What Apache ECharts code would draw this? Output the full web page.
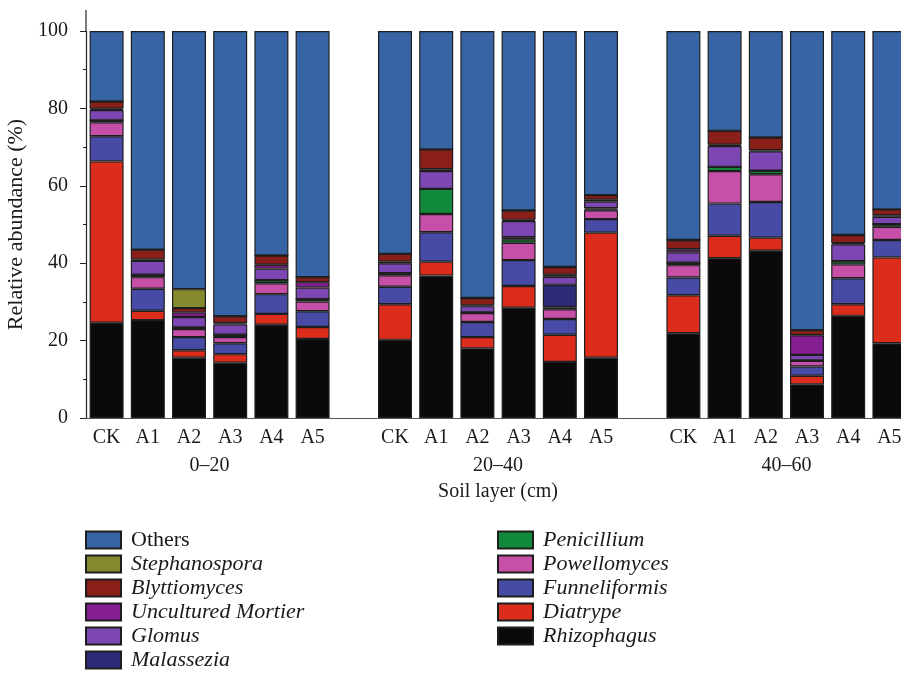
<!DOCTYPE html>
<html>
<head>
<meta charset="utf-8">
<script src="https://cdn.jsdelivr.net/npm/echarts@6/dist/echarts.min.js"></script>
<style>html,body{margin:0;padding:0;background:#fff}#c{width:901px;height:674px}</style>
</head>
<body>
<div id="c"></div>
<script>
// Categories (blank slots separate the soil layers)
var categories = ['CK','A1','A2','A3','A4','A5','', 'CK','A1','A2','A3','A4','A5','', 'CK','A1','A2','A3','A4','A5'];
var groupLabels = ['0\u201320','20\u201340','40\u201360'];
var groupCenters = [3, 10, 17];
var yTicks = [0, 20, 40, 60, 80, 100];

var rhizophagus   = [24.6,25.3,15.6,14.3,24.1,20.4,null, 20.2,36.8,18.0,28.5,14.5,15.6,null, 21.9,41.3,43.2,8.7,26.4,19.3];
var diatrype      = [41.7,2.4,1.9,2.2,2.8,3.1,null, 9.2,3.6,2.9,5.6,7.0,32.3,null, 9.8,5.8,3.4,2.2,3.0,22.2];
var funneliformis = [6.5,5.7,3.4,2.8,5.1,4.1,null, 4.5,7.6,3.9,6.7,4.1,3.5,null, 4.6,8.3,9.2,2.4,6.7,4.5];
var powellomyces  = [3.6,3.0,2.1,1.6,2.8,2.5,null, 3.0,4.7,2.3,4.5,2.5,2.3,null, 3.2,8.4,7.2,1.5,3.6,3.4];
var penicillium   = [0.5,0.6,0.4,0.6,0.8,0.6,null, 0.5,6.5,0.2,0.9,0.5,0.2,null, 0.6,1.1,0.9,0.1,0.8,0.7];
var malassezia    = [0,0,0,0,0,0,null, 0,0,0,0.5,5.8,0.3,null, 0,0,0,0,0,0];
var glomus        = [2.7,3.6,2.7,2.7,3.0,3.0,null, 2.6,4.6,1.6,4.2,2.1,1.7,null, 2.7,5.4,5.0,1.4,4.4,1.9];
var unculturedMortier = [0.3,0.4,1.2,0.3,1.0,1.4,null, 0.4,0.5,0.2,0.3,0.5,0.5,null, 0.8,0.3,0.3,5.1,0.3,0.4];
var blyttiomyces  = [1.9,2.5,1.1,1.8,2.4,1.3,null, 2.0,5.1,1.9,2.4,2.0,1.2,null, 2.4,3.6,3.3,1.3,2.1,1.5];
var stephanospora = [0,0,4.9,0,0,0,null, 0,0,0,0,0,0,null, 0,0,0,0,0,0];
var others        = [18.2,56.5,66.7,73.7,58.0,63.6,null, 57.6,30.6,69.0,46.4,61.0,42.4,null, 54.0,25.8,27.5,77.3,52.7,46.1];

var seriesDefs = [
  ['Rhizophagus', rhizophagus, '#0a0a0a'],
  ['Diatrype', diatrype, '#dc2c1c'],
  ['Funneliformis', funneliformis, '#474ba5'],
  ['Powellomyces', powellomyces, '#c650a8'],
  ['Penicillium', penicillium, '#108a3a'],
  ['Malassezia', malassezia, '#2e2a78'],
  ['Glomus', glomus, '#7c47b2'],
  ['Uncultured Mortier', unculturedMortier, '#861e94'],
  ['Blyttiomyces', blyttiomyces, '#8a1f1a'],
  ['Stephanospora', stephanospora, '#858a2e'],
  ['Others', others, '#3664a4']
];
var legendCol1 = ['Others','Stephanospora','Blyttiomyces','Uncultured Mortier','Glomus','Malassezia'];
var legendCol2 = ['Penicillium','Powellomyces','Funneliformis','Diatrype','Rhizophagus'];

var FONT = '"Liberation Serif", "DejaVu Serif", serif';
var TXT = '#1a1a1a';

function legendFmt(name){ return name === 'Others' ? '{n|' + name + '}' : '{i|' + name + '}'; }
function legend(data, left){
  return {
    data: data, orient: 'vertical', left: left, top: 529, height: 145,
    padding: 0,
    itemWidth: 35, itemHeight: 17, itemGap: 2,
    icon: 'rect', selectedMode: false,
    formatter: legendFmt,
    textStyle: {
      fontFamily: FONT, fontSize: 22, color: TXT, padding: [0,0,0,5], lineHeight: 22,
      rich: {
        n: {fontFamily: FONT, fontSize: 22, color: TXT, lineHeight: 22},
        i: {fontFamily: FONT, fontSize: 22, color: TXT, fontStyle: 'italic', lineHeight: 22}
      }
    }
  };
}

var chart = echarts.init(document.getElementById('c'), null, {renderer: 'canvas'});
chart.setOption({
  backgroundColor: '#fff',
  animation: false,
  grid: {left: 86, top: 31, width: 824, height: 387, containLabel: false, outerBoundsMode: 'none'},
  legend: [legend(legendCol1, 85), legend(legendCol2, 497)],
  xAxis: [{
    type: 'category', data: categories, gridIndex: 0,
    axisLine: {lineStyle: {color: '#555', width: 1}},
    axisTick: {show: false},
    axisLabel: {fontFamily: FONT, fontSize: 20, color: TXT, margin: 10, interval: 0}
  }, {
    type: 'value', min: 0, max: 20, gridIndex: 0, position: 'bottom',
    axisLine: {show: false}, axisTick: {show: false}, splitLine: {show: false},
    axisLabel: {
      customValues: groupCenters, margin: 38,
      fontFamily: FONT, fontSize: 20, color: TXT,
      formatter: function(v){ var i = groupCenters.indexOf(v); return i >= 0 ? groupLabels[i] : ''; }
    },
    name: 'Soil layer (cm)', nameLocation: 'middle', nameGap: 64,
    nameTextStyle: {fontFamily: FONT, fontSize: 20, color: TXT}
  }],
  yAxis: {
    type: 'value', min: 0, max: 100, interval: 20,
    axisLine: {show: true, lineStyle: {color: '#222', width: 1.2}},
    axisTick: {show: true, length: 6, lineStyle: {color: '#222'}},
    minorTick: {show: true, splitNumber: 2, length: 3, lineStyle: {color: '#222'}},
    splitLine: {show: false},
    axisLabel: {
      fontFamily: FONT, fontSize: 20, color: TXT, margin: 18,
      customValues: yTicks
    },
    name: 'Relative abundance (%)', nameLocation: 'middle', nameGap: 51,
    nameTextStyle: {fontFamily: FONT, fontSize: 22, color: TXT}
  },
  graphic: [{
    type: 'line', shape: {x1: 86, y1: 10, x2: 86, y2: 31},
    style: {stroke: '#222', lineWidth: 1.2}
  }],
  series: seriesDefs.map(function(d){
    return {
      name: d[0], type: 'bar', stack: 'all', data: d[1],
      barWidth: 34, xAxisIndex: 0,
      itemStyle: {color: d[2], borderColor: '#1e1e1e', borderWidth: 1.2}
    };
  })
});
</script>
</body>
</html>
